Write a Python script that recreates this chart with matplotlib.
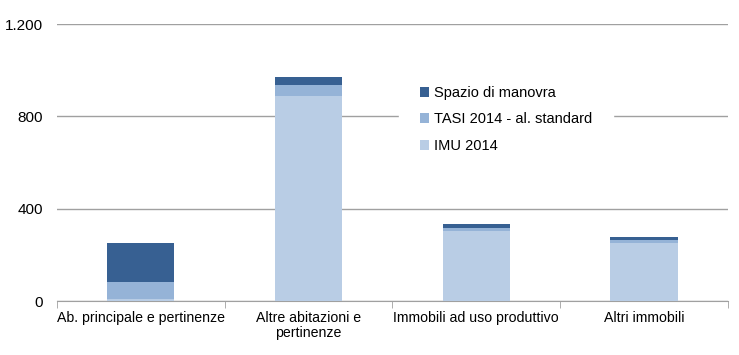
import matplotlib
matplotlib.use("Agg")
import matplotlib.pyplot as plt
import numpy as np
from matplotlib.ticker import FuncFormatter, FixedLocator

plt.rcParams['font.family'] = ['Liberation Sans Narrow', 'Liberation Sans', 'DejaVu Sans']

categories = ["Ab. principale e pertinenze", "Altre abitazioni e\npertinenze",
              "Immobili ad uso produttivo", "Altri immobili"]
imu_2014 = [10, 887, 302, 251]
tasi_2014 = [72, 48, 16, 15]
spazio_manovra = [169, 37, 14, 11]

series = [("IMU 2014", imu_2014, "#B9CDE5"),
          ("TASI 2014 - al. standard", tasi_2014, "#95B3D7"),
          ("Spazio di manovra", spazio_manovra, "#376092")]

fig = plt.figure(figsize=(7.39, 3.55), dpi=100)
ax = fig.add_axes([0.077, 0.152, 0.908, 0.78])

x = np.arange(len(categories))
bottom = np.zeros(len(categories))
handles = []
for label, vals, color in series:
    h = ax.bar(x, vals, width=0.4, bottom=bottom, color=color, label=label, zorder=3)
    handles.append(h)
    bottom += np.array(vals)

ax.set_xlim(-0.5, len(categories) - 0.5)
ax.set_ylim(0, 1200)
ax.set_yticks([0, 400, 800, 1200])
ax.yaxis.set_major_formatter(FuncFormatter(lambda v, p: f"{int(v):,}".replace(",", ".")))
ax.grid(axis='y', color='#A0A0A0', linewidth=1, zorder=0)

ax.set_xticks(x)
ax.set_xticklabels(categories, fontsize=10.2, linespacing=1.15)
ax.xaxis.set_minor_locator(FixedLocator(np.arange(-0.5, len(categories), 1)))
ax.tick_params(axis='x', which='major', length=0, pad=7)
ax.tick_params(axis='x', which='minor', length=5, color='#A0A0A0')
ax.tick_params(axis='y', length=0, labelsize=11, pad=10)

for s in ['left', 'right', 'top']:
    ax.spines[s].set_visible(False)
ax.spines['bottom'].set_color('#A0A0A0')

leg = ax.legend(handles[::-1], [s[0] for s in series[::-1]], loc='upper left',
                bbox_to_anchor=(0.51, 0.85), frameon=True, fontsize=10.5,
                handlelength=0.65, handleheight=0.65, handletextpad=0.35,
                labelspacing=0.85, borderpad=1.4, borderaxespad=0)
leg.get_frame().set_facecolor('white')
leg.get_frame().set_edgecolor('white')
leg.get_frame().set_alpha(1)
leg.set_zorder(5)

fig.savefig("out.png", dpi=100)
